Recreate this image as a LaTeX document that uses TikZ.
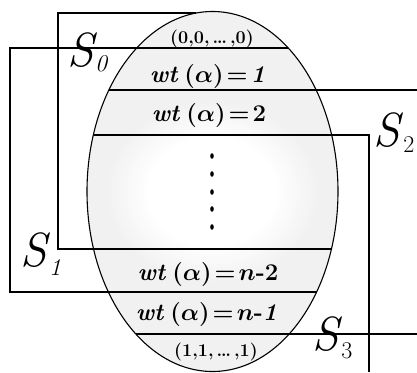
\RequirePackage{fix-cm}
\documentclass[tikz,border=0pt]{standalone}
\usepackage{tikz}
\begin{document}
\begin{tikzpicture}[x=1pt,y=-1pt,
  line/.style={line width=1.1pt,black},
  wlab/.style={font=\fontsize{24}{24}\selectfont\boldmath, inner sep=0pt},
  vlab/.style={font=\fontsize{18}{18}\selectfont\bfseries, inner sep=0pt},
  slab/.style={font=\fontsize{48}{48}\selectfont\itshape, inner sep=0pt},
  sub/.style={font=\fontsize{24}{24}\selectfont, inner sep=0pt}]
\useasboundingbox (0,0) rectangle (417,372);
\def\cx{212.5}\def\cy{191.5}\def\rx{125.5}\def\ry{180}
% ellipse fill
\fill[gray!11] (\cx,\cy) ellipse [x radius=\rx, y radius=\ry];
\begin{scope}
\clip (\cx,\cy) ellipse [x radius=\rx, y radius=\ry];
\foreach \k in {0,...,10}
  \fill[gray!\the\numexpr 10-\k\relax] (\cx,192) ellipse [x radius={105-4*\k}, y radius={90-3.5*\k}];
\end{scope}
% boundary coordinates
\coordinate (L13) at ({\cx-\rx*sqrt(1-((13-\cy)/\ry)^2)},13);
\coordinate (R48) at ({\cx+\rx*sqrt(1-((48-\cy)/\ry)^2)},48);
\coordinate (L90) at ({\cx-\rx*sqrt(1-((90-\cy)/\ry)^2)},90);
\coordinate (L135) at ({\cx-\rx*sqrt(1-((135-\cy)/\ry)^2)},135);
\coordinate (R249) at ({\cx+\rx*sqrt(1-((249-\cy)/\ry)^2)},249);
\coordinate (R292) at ({\cx+\rx*sqrt(1-((292-\cy)/\ry)^2)},292);
\coordinate (L334) at ({\cx-\rx*sqrt(1-((334-\cy)/\ry)^2)},334);
% S0
\draw[line] (L13) -- (58,13) -- (58,249) -- (R249);
% S1
\draw[line] (R48) -- (10,48) -- (10,292) -- (R292);
% S2
\draw[line] (L90) -- (417,90);
\draw[line] (L334) -- (417,334);
% S3
\draw[line] (L135) -- (369,135) -- (369,372);
% ellipse outline
\draw[line] (\cx,\cy) ellipse [x radius=\rx, y radius=\ry];
% dots
\foreach \yy in {156,174,192,209,227}
  \fill (212,\yy) ellipse [x radius=1.8, y radius=2.8];
% texts
\node[vlab] (t0) at (212,39) {(0,0,\,\dots\,,0)};
\node[wlab] (t1) at (209,76) {$\mathit{wt}\,(\alpha)\!=\!\mathit{1}$};
\node[wlab] (t2) at (209,115) {$\mathit{wt}\,(\alpha)\!=\!\mathbf{2}$};
\node[wlab] (t3) at (208,274) {$\mathit{wt}\,(\alpha)\!=\!n$\textbf{-2}};
\node[wlab] (t4) at (208,314) {$\mathit{wt}\,(\alpha)\!=\!n$\textbf{-}$\mathit{1}$};
\node[vlab] (t5) at (216,352) {(1,1,\,\dots\,,1)};
% S labels
\node[slab] (s0) at (81,50) {S};
\node[sub] (s0s) at (101,64) {\itshape 0};
\node[slab] (s1) at (34,250) {S};
\node[sub] (s1s) at (55,268) {\itshape 1};
\node[slab] (s2) at (387,130) {S};
\node[sub] (s2s) at (409,145) {2};
\node[slab] (s3) at (326,334) {S};
\node[sub] (s3s) at (347,351) {3};
\end{tikzpicture}
\end{document}
